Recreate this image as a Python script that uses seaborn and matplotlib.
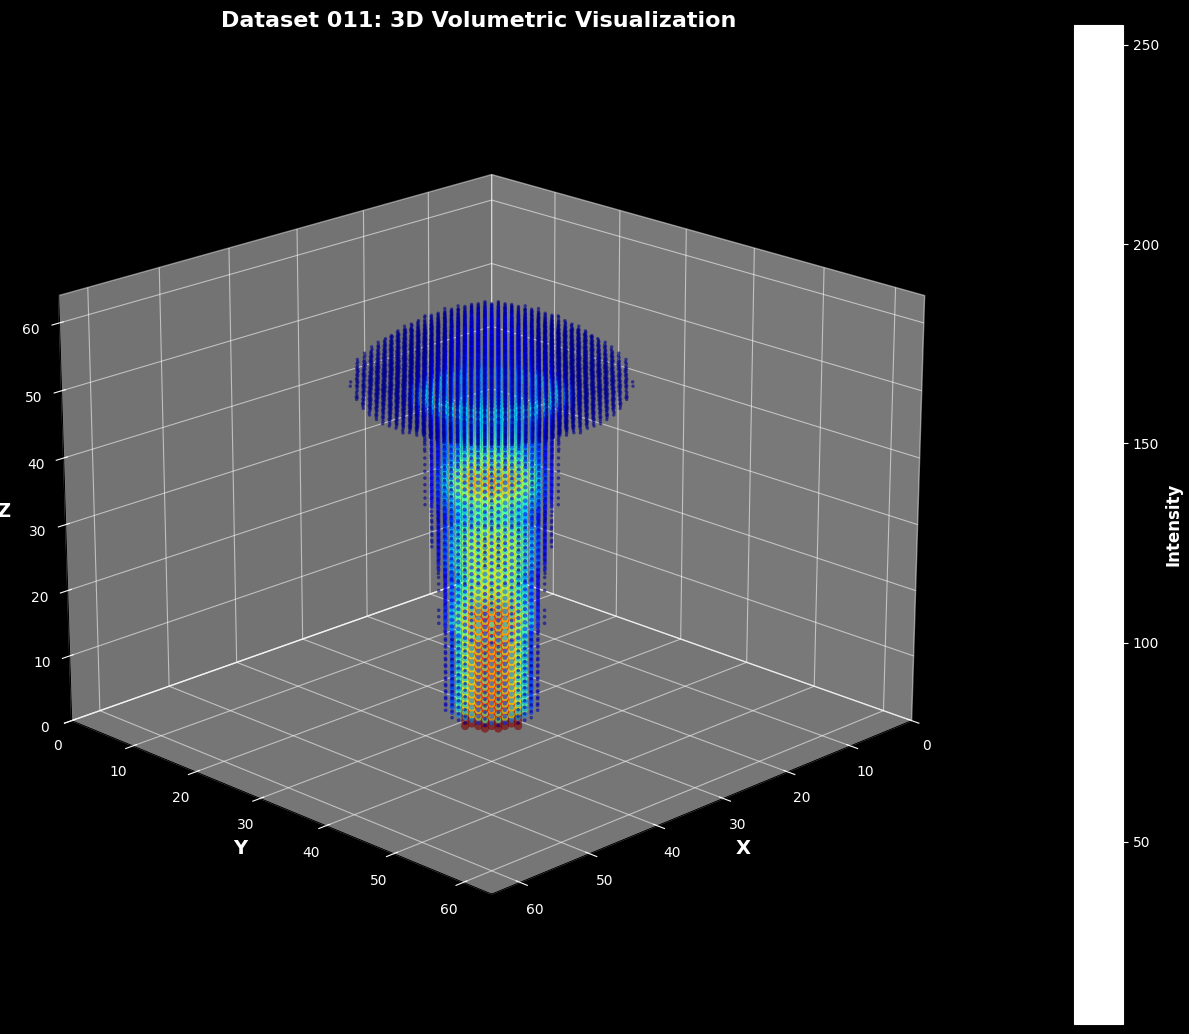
import numpy as np
import pandas as pd
import seaborn as sns
import matplotlib
matplotlib.use("Agg")
import matplotlib.pyplot as plt
from matplotlib.colors import ListedColormap, Normalize
from matplotlib.cm import ScalarMappable

# one entry per horizontal slice of the volume
level_z = [1.5] + list(range(2, 63))
level_radius = [5.1]*14 + [5.7]*3 + [5.6]*2 + [5.7]*4 + [6.35]*3 + [6.45]*5 + [6.35] + [7.1]*9 + [7.5]*3 + \
    [8, 9, 11, 13, 14.2, 14.6, 14.9, 14.7, 14.6, 14.3, 13, 12, 11, 10, 8.5, 7, 5, 2.5]
level_core = [5.1]*14 + [5.7]*3 + [5.6]*2 + [5.7]*4 + [6.35]*3 + [6.45]*5 + [6.35] + [7.1]*9 + [7.5]*3 + \
    [8, 9, 9.5] + [10]*6 + [9]*2 + [8]*2 + [7]*2 + [6, 5, 2.5]
level_peak = [255] + [235]*3 + [228]*13 + [205, 190] + [178]*9 + [165, 155, 145, 140, 145, 160, 180, 205, 210, 200,
    175, 155, 140, 125, 115, 105, 95, 95, 95, 95, 95, 95, 70, 60,
    55, 50, 45, 42, 38, 35, 30, 28, 25, 22]
radial_pos = [0.0, 0.2, 0.4, 0.55, 0.7, 0.83, 1.0]
radial_frac = [1.0, 1.0, 0.95, 0.76, 0.52, 0.27, 0.05]
base_frac = [1.0]*7
ring_frac = [0.5, 0.5, 0.6, 0.8, 1.0, 0.6, 0.08]
ring_levels = [49, 50]
base_half_width = 4

tick_values = [0, 10, 20, 30, 40, 50, 60]
cbar_ticks = [50, 100, 150, 200, 250]

plt.style.use("dark_background")
sns.set_context("notebook", rc={"font.size": 10, "axes.linewidth": 0.8, "grid.linewidth": 0.8,
                                "xtick.major.width": 0.8, "ytick.major.width": 0.8,
                                "xtick.major.size": 3.5, "ytick.major.size": 3.5})
plt.rcParams["font.family"] = ["DejaVu Sans"]

rows = []
for z, R, core, peak in zip(level_z, level_radius, level_core, level_peak):
    n = int(np.ceil(R))
    for dx in range(-n, n + 1):
        for dy in range(-n, n + 1):
            d = np.hypot(dx, dy)
            if d > R or (z == level_z[0] and abs(dx - dy) > base_half_width):
                continue
            table = base_frac if z == level_z[0] else ring_frac if z in ring_levels else radial_frac
            val = peak * np.interp(d / core, radial_pos, table)
            rows.append((32 + dx, 32 + dy, z, max(val, 8)))
df = pd.DataFrame(rows, columns=["x", "y", "z", "intensity"])

fig = plt.figure(figsize=(11.89, 10.34), dpi=100)
ax = fig.add_axes([10.5/1189, 41.5/1034, 937/1189, 937/1034], projection="3d")
ax.scatter(df.x, df.y, df.z, c=df.intensity, cmap="jet", vmin=5, vmax=255,
           s=5 + df.intensity * 0.12, alpha=0.6, linewidths=0)
ax.set_xlim(0, 64); ax.set_ylim(0, 64); ax.set_zlim(0, 64)
ax.set_xticks(tick_values); ax.set_yticks(tick_values); ax.set_zticks(tick_values)
ax.tick_params(labelsize=10, colors="white")
ax.set_xlabel("X", fontsize=14, fontweight="bold", labelpad=5)
ax.set_ylabel("Y", fontsize=14, fontweight="bold", labelpad=5)
ax.set_zlabel("Z", fontsize=14, fontweight="bold", labelpad=4.7)
for axis in (ax.xaxis, ax.yaxis, ax.zaxis):
    axis._axinfo["grid"].update(color=(1, 1, 1, 0.55), linewidth=0.8)
    axis.line.set_color("black")
ax.view_init(elev=20, azim=45)
fig.text(478.5/1189, 1-21/1034, "Dataset 011: 3D Volumetric Visualization", color="white",
         fontsize=16, fontweight="bold", ha="center", va="center")

cax = fig.add_axes([1074/1189, 10/1034, 49/1189, 999/1034])
cb = fig.colorbar(ScalarMappable(Normalize(4.3, 255), ListedColormap(["white"])), cax=cax)
cb.set_ticks(cbar_ticks)
cb.ax.tick_params(labelsize=10, colors="white")
cb.set_label("Intensity", fontsize=12, fontweight="bold", color="white", labelpad=4)
fig.savefig("out.png", dpi=100, facecolor="black")
